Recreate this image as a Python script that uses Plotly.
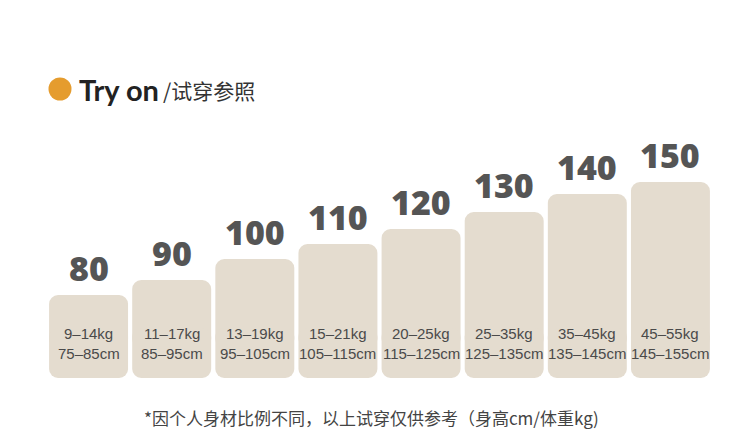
import plotly.graph_objects as go

# ---- data ----
sizes = ["80", "90", "100", "110", "120", "130", "140", "150"]
weights = ["9–14kg", "11–17kg", "13–19kg", "15–21kg", "20–25kg", "25–35kg", "35–45kg", "45–55kg"]
heights_cm = ["75–85cm", "85–95cm", "95–105cm", "105–115cm", "115–125cm",
              "125–135cm", "135–145cm", "145–155cm"]
bar_heights = [83, 98, 119, 134, 149, 166, 184, 196]

W, H = 750, 430
ML, MR, MT, MB = 47, 38, 100, 52
PW = W - ML - MR
PH = H - MT - MB


def px2x(px):
    return (px - ML) / PW


def py2y(py):
    return (H - MB - py) / PH


BAR_COLOR = "#E4DCCF"
LOW_SPLIT = 30
HIGH_SPLIT = 50

fig = go.Figure()
# upper part (rounded top)
fig.add_trace(go.Bar(
    x=sizes, y=[h - LOW_SPLIT for h in bar_heights], base=[LOW_SPLIT] * len(sizes),
    marker=dict(color=BAR_COLOR, line=dict(width=0), cornerradius=9),
    hoverinfo="skip", showlegend=False,
))
# lower part (rounded bottom)
fig.add_trace(go.Bar(
    x=sizes, y=[-HIGH_SPLIT] * len(sizes), base=[HIGH_SPLIT] * len(sizes),
    marker=dict(color=BAR_COLOR, line=dict(width=0), cornerradius=9),
    hoverinfo="skip", showlegend=False,
))

annotations = []
for i, (s, h, w, c) in enumerate(zip(sizes, bar_heights, weights, heights_cm)):
    annotations.append(dict(
        x=i, y=h, xref="x", yref="y", text=s, showarrow=False,
        yanchor="bottom", yshift=2,
        font=dict(family="Open Sans", size=34, color="#555555", weight=800),
    ))
    annotations.append(dict(
        x=i, y=0, xref="x", yref="y", text=w, showarrow=False,
        yanchor="middle", yshift=45,
        font=dict(family="Liberation Sans", size=15, color="#4a4a4a"),
    ))
    annotations.append(dict(
        x=i, y=0, xref="x", yref="y", text=c, showarrow=False,
        yanchor="middle", yshift=25,
        font=dict(family="Liberation Sans", size=15, color="#4a4a4a"),
    ))

# title
annotations.append(dict(
    x=px2x(77), y=py2y(89), xref="paper", yref="paper", xanchor="left", yanchor="middle",
    text="<b>Try on</b>", showarrow=False,
    font=dict(family="Lato", size=29, color="#222222"),
))
annotations.append(dict(
    x=px2x(161), y=py2y(90), xref="paper", yref="paper", xanchor="left", yanchor="middle",
    text="/试穿参照", showarrow=False,
    font=dict(family="Noto Sans CJK SC", size=21, color="#333333"),
))
# footer
annotations.append(dict(
    x=px2x(371), y=py2y(417), xref="paper", yref="paper", xanchor="center", yanchor="middle",
    text="*因个人身材比例不同，以上试穿仅供参考（身高cm/体重kg)", showarrow=False,
    font=dict(family="Noto Sans CJK SC", size=17, color="#444444"),
))

shapes = [dict(
    type="circle", xref="paper", yref="paper",
    x0=px2x(48.5), x1=px2x(71.5), y0=py2y(100.5), y1=py2y(77.5),
    fillcolor="#E59C2E", line=dict(width=0), layer="above",
)]

fig.update_layout(
    width=W, height=H,
    margin=dict(l=ML, r=MR, t=MT, b=MB, pad=0),
    paper_bgcolor="white", plot_bgcolor="white",
    barmode="overlay", bargap=0.05,
    xaxis=dict(visible=False, type="category", range=[-0.5, 7.5]),
    yaxis=dict(visible=False, range=[0, PH]),
    annotations=annotations, shapes=shapes,
    showlegend=False,
)

fig.write_html("out.html", config={"displayModeBar": False},
               post_script="document.body.style.margin='0';")
